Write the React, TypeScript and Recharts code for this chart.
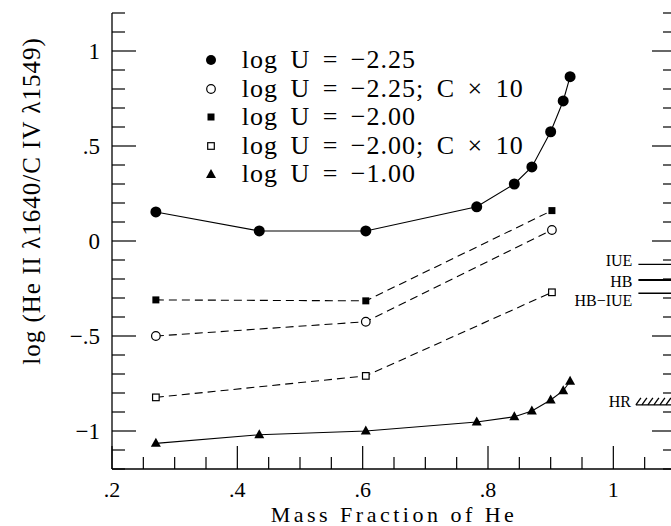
import React from "react";
import {
  LineChart,
  Line,
  XAxis,
  YAxis,
  ReferenceLine,
  ReferenceArea,
  Label,
} from "recharts";

const FONT = "'Liberation Serif', 'DejaVu Serif', serif";

// axis ticks
const X_TICKS = [0.2, 0.25, 0.3, 0.35, 0.4, 0.45, 0.5, 0.55, 0.6, 0.65, 0.7, 0.75, 0.8, 0.85, 0.9, 0.95, 1, 1.05, 1.1];
const X_MAJOR = [0.2, 0.4, 0.6, 0.8, 1];
const X_MAJOR_LABELS = [".2", ".4", ".6", ".8", "1"];
const Y_TICKS = [-1.2, -1.1, -1, -0.9, -0.8, -0.7, -0.6, -0.5, -0.4, -0.3, -0.2, -0.1, 0, 0.1, 0.2, 0.3, 0.4, 0.5, 0.6, 0.7, 0.8, 0.9, 1, 1.1, 1.2];
const Y_MAJOR = [-1, -0.5, 0, 0.5, 1];
const Y_MAJOR_LABELS = ["\u22121", "\u2212.5", "0", ".5", "1"];

// mass fraction of He
const MASS_FULL = [0.27, 0.435, 0.605, 0.782, 0.842, 0.87, 0.9, 0.92, 0.931];
const MASS_SPARSE = [0.27, 0.605, 0.902];

// log (He II / C IV)
const LOGU_225 = [0.153, 0.053, 0.053, 0.18, 0.3, 0.39, 0.575, 0.737, 0.865];
const LOGU_225_C10 = [-0.5, -0.425, 0.058];
const LOGU_200 = [-0.31, -0.315, 0.16];
const LOGU_200_C10 = [-0.823, -0.71, -0.27];
const LOGU_100 = [-1.065, -1.02, -1.0, -0.953, -0.925, -0.895, -0.837, -0.788, -0.738];

// observed values at the right
const OBS_LABELS = ["IUE", "HB", "HB\u2212IUE"];
const OBS_VALUES = [-0.123, -0.205, -0.275];
const OBS_WIDTHS = [1.4, 2, 1.4];
const OBS_DY = [-4, 1, 7];
const HR_RANGE = [-0.863, -0.826];
const OBS_X = [1.04, 1.1];

const LEGEND_LABELS = [
  "log U = \u22122.25",
  "log U = \u22122.25; C \u00d7 10",
  "log U = \u22122.00",
  "log U = \u22122.00; C \u00d7 10",
  "log U = \u22121.00",
];

const X_TITLE = "Mass Fraction of He";
const Y_TITLE = "log (He II \u03bb1640/C IV \u03bb1549)";

const toPoints = (xs: number[], ys: number[]) => xs.map((x, i) => ({ x, y: ys[i] }));

const majorIndex = (v: number, majors: number[]) =>
  majors.findIndex((m) => Math.abs(m - v) < 1e-6);

const BottomTick = (props: any) => {
  const { x, y, payload } = props;
  const i = majorIndex(payload.value, X_MAJOR);
  const len = i >= 0 ? 23 : 12;
  return (
    <g>
      <line x1={x} y1={y} x2={x} y2={y - len} stroke="#000" strokeWidth={1.2} />
      {i >= 0 && (
        <text x={x} y={y + 28} textAnchor="middle" fontSize={22} fontFamily={FONT} fill="#000">
          {X_MAJOR_LABELS[i]}
        </text>
      )}
    </g>
  );
};

const TopTick = (props: any) => {
  const { x, y, payload } = props;
  const len = majorIndex(payload.value, X_MAJOR) >= 0 ? 23 : 12;
  return <line x1={x} y1={y} x2={x} y2={y + len} stroke="#000" strokeWidth={1.2} />;
};

const LeftTick = (props: any) => {
  const { x, y, payload } = props;
  const i = majorIndex(payload.value, Y_MAJOR);
  const len = i >= 0 ? 24 : 13;
  return (
    <g>
      <line x1={x} y1={y} x2={x + len} y2={y} stroke="#000" strokeWidth={1.2} />
      {i >= 0 && (
        <text x={x - 12} y={y + 8} textAnchor="end" fontSize={23} fontFamily={FONT} fill="#000">
          {Y_MAJOR_LABELS[i]}
        </text>
      )}
    </g>
  );
};

const RightTick = (props: any) => {
  const { x, y, payload } = props;
  const len = majorIndex(payload.value, Y_MAJOR) >= 0 ? 24 : 13;
  return <line x1={x} y1={y} x2={x - len} y2={y} stroke="#000" strokeWidth={1.2} />;
};

const filledCircle = (p: any) => <circle key={p.index} cx={p.cx} cy={p.cy} r={5.5} fill="#000" />;
const openCircle = (p: any) => (
  <circle key={p.index} cx={p.cx} cy={p.cy} r={4.3} fill="#fff" stroke="#000" strokeWidth={1.2} />
);
const filledSquare = (p: any) => (
  <rect key={p.index} x={p.cx - 3.5} y={p.cy - 3.5} width={7} height={7} fill="#000" />
);
const openSquare = (p: any) => (
  <rect key={p.index} x={p.cx - 3.3} y={p.cy - 3.3} width={6.6} height={6.6} fill="#fff" stroke="#000" strokeWidth={1.2} />
);
const triangle = (p: any) => (
  <polygon
    key={p.index}
    points={`${p.cx},${p.cy - 5.5} ${p.cx - 5},${p.cy + 3.5} ${p.cx + 5},${p.cy + 3.5}`}
    fill="#000"
  />
);

const HatchShape = (props: any) => {
  const { x, y, width, height } = props;
  const lines = [];
  for (let i = 0; i + 4 < width + 6; i += 6) {
    lines.push(
      <line key={i} x1={x + i} y1={y + height} x2={x + i + 5} y2={y} stroke="#000" strokeWidth={1.3} />
    );
  }
  return (
    <g>
      {lines}
      <line x1={x} y1={y + height} x2={x + width} y2={y + height} stroke="#000" strokeWidth={1.3} />
    </g>
  );
};

const legendMarker = (i: number) => {
  switch (i) {
    case 0:
      return <circle cx={10} cy={10} r={5} fill="#000" />;
    case 1:
      return <circle cx={10} cy={10} r={4.3} fill="#fff" stroke="#000" strokeWidth={1.2} />;
    case 2:
      return <rect x={6.5} y={6.5} width={7} height={7} fill="#000" />;
    case 3:
      return <rect x={6.7} y={6.7} width={6.6} height={6.6} fill="#fff" stroke="#000" strokeWidth={1.2} />;
    default:
      return <polygon points="10,5 5,14 15,14" fill="#000" />;
  }
};

const App = () => {
  const textStyle = { fontFamily: FONT, fill: "#000" };
  return (
    <div style={{ position: "relative", width: 671, height: 526, overflow: "hidden", background: "#fff" }}>
      <style>{"body{margin:0;overflow:hidden}"}</style>
      <LineChart width={720} height={526} margin={{ top: 13, right: 0, bottom: 0, left: 0 }}>
        <XAxis
          dataKey="x"
          type="number"
          domain={[0.2, 1.1]}
          ticks={X_TICKS}
          interval={0}
          height={57}
          tickSize={0}
          tickMargin={0}
          tick={<BottomTick />}
          axisLine={{ stroke: "#000", strokeWidth: 1.3 }}
          allowDataOverflow
        >
          <Label
            content={(p: any) => (
              <text
                x={p.viewBox.x + p.viewBox.width / 2}
                y={p.viewBox.y + 52.5}
                textAnchor="middle"
                fontSize={22}
                letterSpacing={3.5}
                {...textStyle}
              >
                {X_TITLE}
              </text>
            )}
          />
        </XAxis>
        <XAxis
          xAxisId="top"
          orientation="top"
          type="number"
          domain={[0.2, 1.1]}
          ticks={X_TICKS}
          interval={0}
          height={0}
          tickSize={0}
          tickMargin={0}
          tick={<TopTick />}
          axisLine={{ stroke: "#000", strokeWidth: 1.3 }}
          allowDataOverflow
        />
        <YAxis
          type="number"
          domain={[-1.2, 1.2]}
          ticks={Y_TICKS}
          interval={0}
          width={112}
          tickSize={0}
          tickMargin={0}
          tick={<LeftTick />}
          axisLine={{ stroke: "#000", strokeWidth: 1.3 }}
          allowDataOverflow
        >
          <Label
            content={(p: any) => {
              const cx = p.viewBox.x + 31;
              const cy = p.viewBox.y + p.viewBox.height / 2 - 40;
              return (
                <text
                  x={cx}
                  y={cy}
                  transform={`rotate(-90 ${cx} ${cy})`}
                  textAnchor="middle"
                  dominantBaseline="central"
                  fontSize={25}
                  letterSpacing={1}
                  {...textStyle}
                >
                  {Y_TITLE}
                </text>
              );
            }}
          />
        </YAxis>
        <YAxis
          yAxisId="right"
          orientation="right"
          type="number"
          domain={[-1.2, 1.2]}
          ticks={Y_TICKS}
          interval={0}
          width={44}
          tickSize={0}
          tickMargin={0}
          tick={<RightTick />}
          axisLine={{ stroke: "#000", strokeWidth: 1.3 }}
          allowDataOverflow
        />

        {OBS_LABELS.map((lab, i) => (
          <ReferenceLine
            key={lab}
            segment={[
              { x: OBS_X[0], y: OBS_VALUES[i] },
              { x: OBS_X[1], y: OBS_VALUES[i] },
            ]}
            stroke="#000"
            strokeWidth={OBS_WIDTHS[i]}
            label={{
              value: lab,
              position: "left",
              offset: 6,
              dy: OBS_DY[i],
              fontSize: 16,
              fontFamily: FONT,
              fill: "#000",
            }}
          />
        ))}
        <ReferenceArea
          x1={OBS_X[0] - 0.004}
          x2={OBS_X[1]}
          y1={HR_RANGE[0]}
          y2={HR_RANGE[1]}
          shape={<HatchShape />}
          label={{ value: "HR", position: "left", offset: 5, fontSize: 16, fontFamily: FONT, fill: "#000" }}
        />

        <Line
          data={toPoints(MASS_FULL, LOGU_225)}
          dataKey="y"
          type="linear"
          stroke="#000"
          strokeWidth={1.1}
          dot={filledCircle}
          isAnimationActive={false}
        />
        <Line
          data={toPoints(MASS_SPARSE, LOGU_225_C10)}
          dataKey="y"
          type="linear"
          stroke="#000"
          strokeWidth={1.1}
          strokeDasharray="8 5"
          dot={openCircle}
          isAnimationActive={false}
        />
        <Line
          data={toPoints(MASS_SPARSE, LOGU_200)}
          dataKey="y"
          type="linear"
          stroke="#000"
          strokeWidth={1.1}
          strokeDasharray="8 5"
          dot={filledSquare}
          isAnimationActive={false}
        />
        <Line
          data={toPoints(MASS_SPARSE, LOGU_200_C10)}
          dataKey="y"
          type="linear"
          stroke="#000"
          strokeWidth={1.1}
          strokeDasharray="8 5"
          dot={openSquare}
          isAnimationActive={false}
        />
        <Line
          data={toPoints(MASS_FULL, LOGU_100)}
          dataKey="y"
          type="linear"
          stroke="#000"
          strokeWidth={1.1}
          dot={triangle}
          isAnimationActive={false}
        />
      </LineChart>

      <div style={{ position: "absolute", left: 200.7, top: 45.75, fontFamily: FONT, fontSize: 26 }}>
        {LEGEND_LABELS.map((lab, i) => (
          <div key={lab} style={{ display: "flex", alignItems: "center", height: 28.5, whiteSpace: "pre" }}>
            <svg width={20} height={20} style={{ flex: "none" }}>
              {legendMarker(i)}
            </svg>
            <span style={{ marginLeft: 21, wordSpacing: 5, letterSpacing: 1 }}>{lab}</span>
          </div>
        ))}
      </div>
    </div>
  );
};

export default App;
